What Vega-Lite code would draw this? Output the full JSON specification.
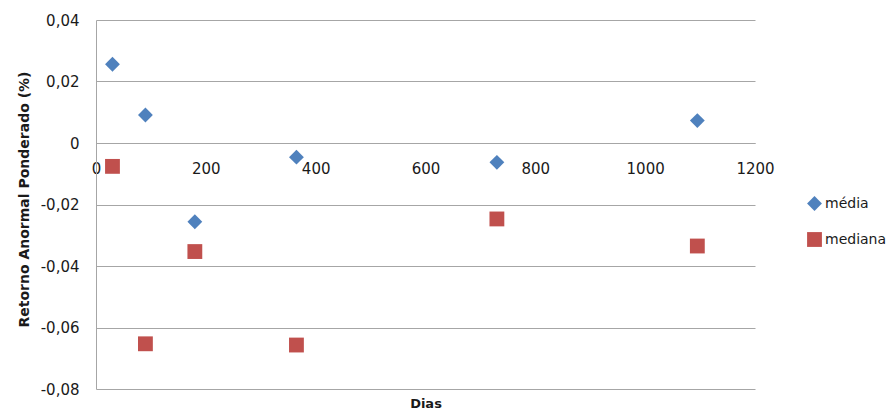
{
  "$schema": "https://vega.github.io/schema/vega-lite/v6.json",
  "width": 659,
  "height": 369,
  "autosize": {"type": "none"},
  "padding": {"left": 96, "top": 20, "right": 140, "bottom": 23},
  "background": "white",
  "config": {
    "view": {"stroke": null},
    "font": "DejaVu Sans",
    "axis": {"labelFont": "DejaVu Sans", "titleFont": "DejaVu Sans", "labelColor": "#1a1a1a", "titleColor": "#1a1a1a"}
  },
  "data": {
    "values": [
      {"dias": 30, "serie": "média", "valor": 0.0256},
      {"dias": 90, "serie": "média", "valor": 0.0091},
      {"dias": 180, "serie": "média", "valor": -0.0256},
      {"dias": 365, "serie": "média", "valor": -0.0046},
      {"dias": 730, "serie": "média", "valor": -0.0063},
      {"dias": 1095, "serie": "média", "valor": 0.0073},
      {"dias": 30, "serie": "mediana", "valor": -0.0076},
      {"dias": 90, "serie": "mediana", "valor": -0.0653},
      {"dias": 180, "serie": "mediana", "valor": -0.0353},
      {"dias": 365, "serie": "mediana", "valor": -0.0657},
      {"dias": 730, "serie": "mediana", "valor": -0.0247},
      {"dias": 1095, "serie": "mediana", "valor": -0.0335}
    ]
  },
  "mark": {"type": "point", "filled": true, "opacity": 1, "size": 220},
  "encoding": {
    "x": {
      "field": "dias",
      "type": "quantitative",
      "scale": {"domain": [0, 1200], "nice": false, "zero": true},
      "axis": {
        "title": "Dias",
        "titleFontSize": 13,
        "titleFontWeight": "bold",
        "titleY": 254,
        "titleBaseline": "top",
        "values": [0, 200, 400, 600, 800, 1000, 1200],
        "format": "d",
        "offset": -246,
        "grid": false,
        "ticks": false,
        "domain": true,
        "domainColor": "#a6a6a6",
        "labelFontSize": 15,
        "labelPadding": 18,
        "labelFlush": false,
        "labelOverlap": false
      }
    },
    "y": {
      "field": "valor",
      "type": "quantitative",
      "scale": {"domain": [-0.08, 0.04], "nice": false, "zero": false},
      "axis": {
        "title": "Retorno Anormal Ponderado (%)",
        "titleFontSize": 14,
        "titleFontWeight": "bold",
        "titleX": -65,
        "titleY": 179,
        "titleBaseline": "bottom",
        "values": [-0.08, -0.06, -0.04, -0.02, 0, 0.02, 0.04],
        "labelExpr": "datum.value == 0 ? '0' : replace(replace(format(datum.value, '.2f'), '.', ','), '\u2212', '-')",
        "grid": true,
        "gridColor": "#a6a6a6",
        "gridWidth": 1,
        "ticks": false,
        "domain": true,
        "domainColor": "#a6a6a6",
        "labelFontSize": 15,
        "labelPadding": 17
      }
    },
    "color": {
      "field": "serie",
      "type": "nominal",
      "scale": {"domain": ["média", "mediana"], "range": ["#4F81BD", "#C0504D"]},
      "legend": {
        "title": null,
        "orient": "none",
        "legendX": 710,
        "legendY": 175,
        "padding": 0,
        "symbolSize": 220,
        "symbolOpacity": 1,
        "labelFont": "DejaVu Sans",
        "labelFontSize": 14,
        "labelColor": "#1a1a1a",
        "labelOffset": 2,
        "rowPadding": 15
      }
    },
    "shape": {
      "field": "serie",
      "type": "nominal",
      "scale": {"domain": ["média", "mediana"], "range": ["diamond", "square"]}
    }
  }
}
